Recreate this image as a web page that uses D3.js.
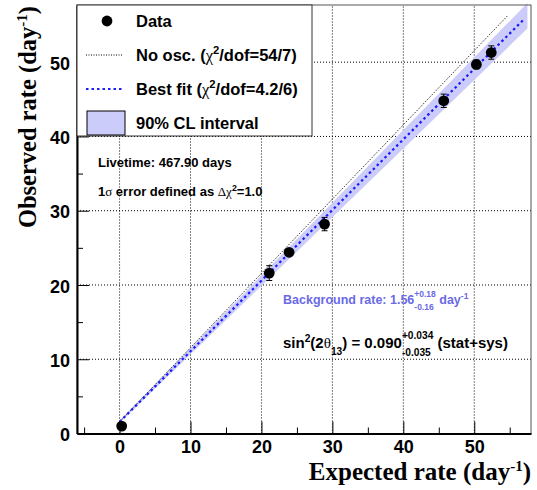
<!DOCTYPE html>
<html>
<head>
<meta charset="utf-8">
<script src="https://cdn.jsdelivr.net/npm/d3@7"></script>
<style>
  body { margin: 0; background: #fff; }
  svg text { font-family: "Liberation Sans", Arial, sans-serif; font-weight: bold; white-space: pre; }
</style>
</head>
<body>
<div id="chart"></div>
<script>
// data
const expected = [0.3, 21.1, 23.9, 28.9, 45.7, 50.3, 52.4];
const observed = [1.0, 21.6, 24.4, 28.2, 44.8, 49.7, 51.3];
const errors   = [0.3, 1.0, 0.5, 0.9, 0.9, 0.6, 0.9];
const xMajor = [0, 10, 20, 30, 40, 50];
const xMinor = [-5, 5, 15, 25, 35, 45, 55];
const yMajor = [0, 10, 20, 30, 40, 50];
const yMinor = [5, 15, 25, 35, 45, 55];
// fit lines (in data units)
const bkg = 1.56, bkgUp = 0.18, bkgDown = 0.16;
const fitSlope = 0.951;
const noOscRange = [0, 54.7];
const fitRange = [0, 57.1];
const bandSlopeDelta = 0.027;

const w = 537, h = 490;
const svg = d3.select("#chart").append("svg").attr("width", w).attr("height", h);

const x = d3.scaleLinear().domain([-6, 58]).range([77, 531]);
const y = d3.scaleLinear().domain([0, 57.7]).range([433.5, 5]);

// writes a run of text pieces, measuring each so scripts line up
function rich(g, x0, y0, size, fill, parts) {
  let cx = x0;
  parts.forEach(p => {
    const fs = p.small ? size * 0.68 : size;
    const mk = (txt, dy) => {
      const t = g.append("text").attr("x", cx).attr("y", y0 + dy)
        .attr("xml:space", "preserve")
        .style("font-size", fs + "px").attr("fill", fill).text(txt);
      if (p.serif) t.style("font-family", "Liberation Serif, serif").style("font-weight", "normal");
      return t.node().getComputedTextLength();
    };
    if (p.sup !== undefined && p.sub !== undefined) {
      const a = mk(p.sup, -size * 0.6), b = mk(p.sub, size * 0.5);
      cx += Math.max(a, b);
    } else if (p.sup !== undefined) {
      cx += mk(p.sup, -size * 0.42);
    } else if (p.sub !== undefined) {
      cx += mk(p.sub, size * 0.45);
    } else {
      cx += mk(p.t, 0);
    }
  });
}

// grid
svg.append("g").selectAll("line").data(xMajor).enter().append("line")
  .attr("x1", d => x(d)).attr("x2", d => x(d)).attr("y1", y(0)).attr("y2", y(57.7))
  .attr("stroke", "#000").attr("stroke-width", 1).attr("stroke-dasharray", "1,2");
svg.append("g").selectAll("line").data(yMajor.slice(1)).enter().append("line")
  .attr("x1", x(-6)).attr("x2", x(58)).attr("y1", d => y(d)).attr("y2", d => y(d))
  .attr("stroke", "#000").attr("stroke-width", 1).attr("stroke-dasharray", "1,2");

// 90% CL band
const area = d3.area()
  .x(d => x(d))
  .y0(d => y(bkg - bkgDown + (fitSlope - bandSlopeDelta) * d))
  .y1(d => y(bkg + bkgUp + (fitSlope + bandSlopeDelta) * d));
svg.append("path").datum([0, fitRange[1] + 0.4]).attr("d", area).attr("fill", "#ccccfa");

// no oscillation line
const line = d3.line().x(d => x(d[0])).y(d => y(d[1]));
svg.append("path").datum(noOscRange.map(v => [v, v + bkg]))
  .attr("d", line).attr("stroke", "#000").attr("stroke-width", 1)
  .attr("stroke-dasharray", "1,1.5").attr("fill", "none");
// best fit
svg.append("path").datum(fitRange.map(v => [v, bkg + fitSlope * v]))
  .attr("d", line).attr("stroke", "#1a1aff").attr("stroke-width", 2.2)
  .attr("stroke-dasharray", "2.5,3").attr("fill", "none");

// data points with error bars
const pts = expected.map((e, i) => ({ e: e, o: observed[i], err: errors[i] }));
const pg = svg.append("g");
pg.selectAll(".eb").data(pts).enter().append("line")
  .attr("x1", d => x(d.e)).attr("x2", d => x(d.e))
  .attr("y1", d => y(d.o - d.err)).attr("y2", d => y(d.o + d.err))
  .attr("stroke", "#000").attr("stroke-width", 1);
pg.selectAll(".capL").data(pts).enter().append("line")
  .attr("x1", d => x(d.e) - 3).attr("x2", d => x(d.e) + 3)
  .attr("y1", d => y(d.o - d.err)).attr("y2", d => y(d.o - d.err))
  .attr("stroke", "#000").attr("stroke-width", 1);
pg.selectAll(".capH").data(pts).enter().append("line")
  .attr("x1", d => x(d.e) - 3).attr("x2", d => x(d.e) + 3)
  .attr("y1", d => y(d.o + d.err)).attr("y2", d => y(d.o + d.err))
  .attr("stroke", "#000").attr("stroke-width", 1);
pg.selectAll("circle").data(pts).enter().append("circle")
  .attr("cx", d => x(d.e)).attr("cy", d => y(d.o)).attr("r", 5.4).attr("fill", "#000");

// frame
svg.append("rect").attr("x", x(-6)).attr("y", y(57.7))
  .attr("width", x(58) - x(-6)).attr("height", y(0) - y(57.7))
  .attr("fill", "none").attr("stroke", "#555").attr("stroke-width", 1);

// axes
const xAxis = svg.append("g").attr("transform", `translate(0,${y(0)})`)
  .call(d3.axisBottom(x).tickValues(xMajor).tickSizeInner(-12).tickSizeOuter(0).tickPadding(18).tickFormat(d3.format("d")));
svg.append("g").attr("transform", `translate(0,${y(0)})`)
  .call(d3.axisBottom(x).tickValues(xMinor).tickSizeInner(-6).tickSizeOuter(0).tickFormat(""))
  .select(".domain").remove();
const yAxis = svg.append("g").attr("transform", `translate(${x(-6)},0)`)
  .call(d3.axisLeft(y).tickValues(yMajor).tickSizeInner(-12).tickSizeOuter(0).tickPadding(7).tickFormat(d3.format("d")));
svg.append("g").attr("transform", `translate(${x(-6)},0)`)
  .call(d3.axisLeft(y).tickValues(yMinor).tickSizeInner(-6).tickSizeOuter(0).tickFormat(""))
  .select(".domain").remove();
svg.selectAll(".domain").attr("stroke", "#000").attr("stroke-width", 2);
svg.selectAll(".tick text").attr("font-size", 18).attr("font-family", "Liberation Sans, Arial, sans-serif").attr("font-weight", "bold").attr("fill", "#000");
xAxis.selectAll(".tick text").attr("dy", "0.1em");
yAxis.selectAll(".tick text").attr("dy", "0.4em");

// axis titles
const xt = svg.append("text").attr("x", 531).attr("y", 480).attr("text-anchor", "end")
  .style("font-family", "Liberation Serif, Times New Roman, serif").style("font-size", "25px");
xt.append("tspan").text("Expected rate (day");
xt.append("tspan").attr("dy", -9).style("font-size", "15px").text("-1");
xt.append("tspan").attr("dy", 9).text(")");

const yt = svg.append("text").attr("transform", "translate(36,6) rotate(-90)").attr("text-anchor", "end")
  .style("font-family", "Liberation Serif, Times New Roman, serif").style("font-size", "24.5px");
yt.append("tspan").text("Observed rate (day");
yt.append("tspan").attr("dy", -9).style("font-size", "15px").text("-1");
yt.append("tspan").attr("dy", 9).text(")");

// legend
const lg = svg.append("g");
lg.append("rect").attr("x", 77).attr("y", 5).attr("width", 235).attr("height", 131)
  .attr("fill", "#fff").attr("stroke", "#333").attr("stroke-width", 1);
const rowY = [21, 55, 89, 123];
lg.append("circle").attr("cx", 107).attr("cy", rowY[0]).attr("r", 5.4).attr("fill", "#000");
lg.append("line").attr("x1", 86).attr("x2", 123).attr("y1", rowY[1]).attr("y2", rowY[1])
  .attr("stroke", "#000").attr("stroke-width", 1).attr("stroke-dasharray", "1,1.5");
lg.append("line").attr("x1", 86).attr("x2", 123).attr("y1", rowY[2]).attr("y2", rowY[2])
  .attr("stroke", "#1a1aff").attr("stroke-width", 2.2).attr("stroke-dasharray", "2.5,3");
lg.append("rect").attr("x", 87).attr("y", rowY[3] - 12).attr("width", 38).attr("height", 24)
  .attr("fill", "#ccccfa").attr("stroke", "#000").attr("stroke-width", 1);
const ls = 16.5;
rich(lg, 136, rowY[0] + 6, ls, "#000", [{ t: "Data" }]);
rich(lg, 136, rowY[1] + 6, ls, "#000", [{ t: "No osc. (" }, { t: "χ", serif: true }, { sup: "2", small: true }, { t: "/dof=54/7)" }]);
rich(lg, 136, rowY[2] + 6, ls, "#000", [{ t: "Best fit (" }, { t: "χ", serif: true }, { sup: "2", small: true }, { t: "/dof=4.2/6)" }]);
rich(lg, 136, rowY[3] + 6, ls, "#000", [{ t: "90% CL interval" }]);

// annotations
const ann = svg.append("g");
rich(ann, 98, 167, 13, "#000", [{ t: "Livetime: 467.90 days" }]);
rich(ann, 98, 196, 13, "#000", [{ t: "1" }, { t: "σ", serif: true }, { t: " error defined as " }, { t: "Δχ", serif: true }, { sup: "2", small: true }, { t: "=1.0" }]);
rich(ann, 283, 304, 12.5, "#6a6ae6", [{ t: "Background rate: 1.56" }, { sup: "+0.18", sub: "-0.16", small: true }, { t: " day" }, { sup: "-1", small: true }]);
rich(ann, 283, 348, 15, "#000", [{ t: "sin" }, { sup: "2", small: true }, { t: "(2" }, { t: "θ", serif: true }, { sub: "13", small: true }, { t: ") = 0.090" }, { sup: "+0.034", sub: "-0.035", small: true }, { t: " (stat+sys)" }]);
</script>
</body>
</html>
